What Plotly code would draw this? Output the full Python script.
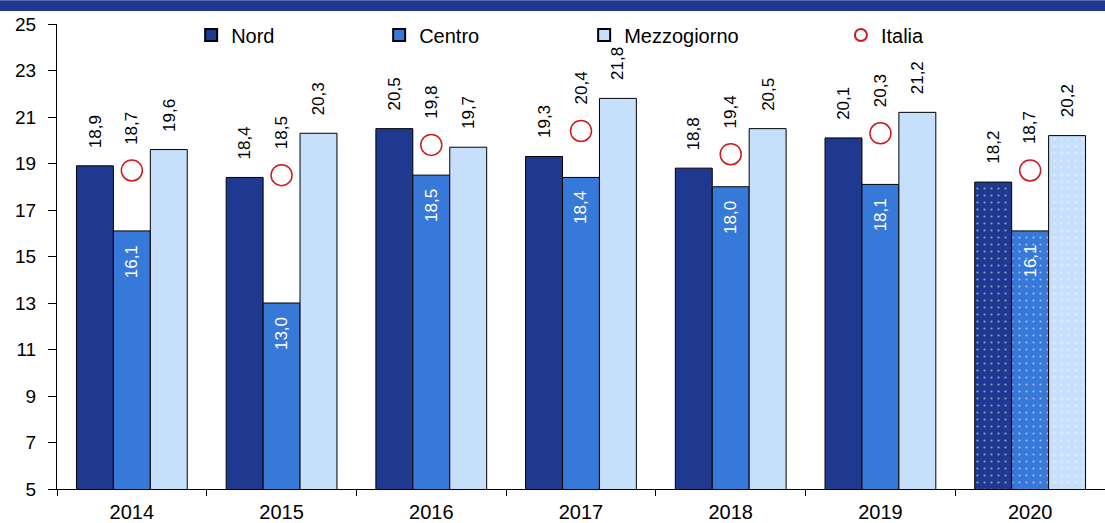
import plotly.graph_objects as go

years = ["2014", "2015", "2016", "2017", "2018", "2019", "2020"]
nord = [18.9, 18.4, 20.5, 19.3, 18.8, 20.1, 18.2]
centro = [16.1, 13.0, 18.5, 18.4, 18.0, 18.1, 16.1]
mezzogiorno = [19.6, 20.3, 19.7, 21.8, 20.5, 21.2, 20.2]
italia = [18.7, 18.5, 19.8, 20.4, 19.4, 20.3, 18.7]

C_NORD = "#1F3991"
C_CENTRO = "#3679D8"
C_MEZZO = "#C6DFFB"
C_RED = "#D0191F"

LABEL_FONT = "Liberation Sans, Arial, sans-serif"
TICK_FONT = "Liberation Sans, Arial, sans-serif"

def fmt(v):
    return f"{v:.1f}".replace(".", ",")

pattern_shapes = [""] * (len(years) - 1) + ["."]

def bar(name, vals, color, legend):
    return go.Bar(
        x=years, y=vals, name=name, legend=legend,
        marker=dict(color=color, line=dict(color="black", width=1),
                    pattern=dict(shape=pattern_shapes, fgcolor="white",
                                 size=7, solidity=0.08)),
        hoverinfo="skip",
    )

fig = go.Figure()
fig.add_trace(bar("Nord", nord, C_NORD, "legend"))
fig.add_trace(bar("Centro", centro, C_CENTRO, "legend2"))
fig.add_trace(bar("Mezzogiorno", mezzogiorno, C_MEZZO, "legend3"))
fig.add_trace(go.Scatter(
    x=years, y=italia, name="Italia", mode="markers", legend="legend4",
    marker=dict(symbol="circle-open", size=21, color=C_RED, line=dict(width=1.5, color=C_RED)),
    hoverinfo="skip",
))

annotations = []
BAR_W = 37
for i, y in enumerate(years):
    annotations.append(dict(x=i, y=nord[i], xref="x", yref="y", text=fmt(nord[i]),
                            textangle=-90, showarrow=False, xshift=-BAR_W,
                            yanchor="bottom", yshift=16,
                            font=dict(family=LABEL_FONT, size=17, color="black")))
    annotations.append(dict(x=i, y=mezzogiorno[i], xref="x", yref="y", text=fmt(mezzogiorno[i]),
                            textangle=-90, showarrow=False, xshift=BAR_W,
                            yanchor="bottom", yshift=16,
                            font=dict(family=LABEL_FONT, size=17, color="black")))
    annotations.append(dict(x=i, y=centro[i], xref="x", yref="y", text=fmt(centro[i]),
                            textangle=-90, showarrow=False, xshift=0,
                            yanchor="top", yshift=-12,
                            font=dict(family=LABEL_FONT, size=17, color="white")))
    annotations.append(dict(x=i, y=italia[i], xref="x", yref="y", text=fmt(italia[i]),
                            textangle=-90, showarrow=False, xshift=0,
                            yanchor="bottom", yshift=24,
                            font=dict(family=LABEL_FONT, size=17, color="black")))

leg_common = dict(orientation="h", yanchor="middle", y=0.9765, xanchor="left",
                  bgcolor="rgba(0,0,0,0)", itemwidth=30, itemsizing="constant",
                  font=dict(family=LABEL_FONT, size=20, color="black"))

fig.update_layout(
    width=1105, height=523,
    margin=dict(l=57, r=0, t=24, b=30),
    paper_bgcolor="white", plot_bgcolor="white",
    showlegend=True,
    barmode="group", bargap=0.26, bargroupgap=0,
    annotations=annotations,
    legend=dict(leg_common, x=0.128),
    legend2=dict(leg_common, x=0.3074),
    legend3=dict(leg_common, x=0.503),
    legend4=dict(leg_common, x=0.748),
    xaxis=dict(type="category", categoryorder="array", categoryarray=years,
               range=[-0.5, len(years) - 0.5], autorange=False,
               showline=True, linecolor="black", linewidth=1,
               ticks="outside", tickson="boundaries", ticklen=6, tickcolor="black",
               ticklabelstandoff=5,
               showgrid=False, tickfont=dict(family=TICK_FONT, size=20, color="black")),
    yaxis=dict(range=[5, 25], dtick=2, tick0=5, showline=True, linecolor="black", linewidth=1,
               ticks="outside", ticklen=8, tickcolor="black", showgrid=False, zeroline=False,
               ticklabelstandoff=8,
               tickfont=dict(family=TICK_FONT, size=19, color="black")),
    shapes=[dict(type="rect", xref="paper", yref="paper", x0=-57 / 1048, x1=1.0,
                 y0=1 + 13 / 469, y1=1 + 24 / 469, fillcolor=C_NORD, line=dict(width=0), layer="above")],
)

fig.write_html("out.html", config={"displayModeBar": False},
               post_script="document.body.style.margin='0';")
